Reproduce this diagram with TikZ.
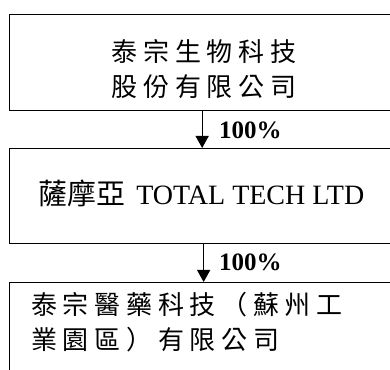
\documentclass[tikz,border=0pt]{standalone}
\usepackage{fontspec}
\setmainfont{Liberation Serif}
\newfontfamily\cjk{Noto Sans CJK TC}
\newfontfamily\cjksp[LetterSpace=22]{Noto Sans CJK TC}
\usetikzlibrary{arrows.meta}
\begin{document}
\begin{tikzpicture}[x=1pt,y=1pt,
  box/.style={draw,line width=1.3pt,minimum width=385pt,inner sep=0pt,anchor=north west},
  lbl/.style={inner sep=0pt},
  big/.style={font=\cjksp\fontsize{26}{26}\selectfont},
  conn/.style={line width=1.3pt,-{Triangle[width=13pt,length=12pt]}},
  pct/.style={inner sep=0pt,anchor=west,font=\fontsize{25}{25}\selectfont\bfseries}]
\useasboundingbox (0,0) rectangle (390,369);
\clip (0,0) rectangle (390,369);
\node[box,minimum height=96pt] (b1) at (9,355) {};
\node[box,minimum height=95pt] (b2) at (9,221) {};
\node[box,minimum height=100pt] (b3) at (9,87) {};
\node[lbl,big] (t1a) at (204,317) {泰宗生物科技};
\node[lbl,big] (t1b) at (204,282) {股份有限公司};
\node[lbl,anchor=base] (t2) at (201.5,164) {\cjk\fontsize{29}{29}\selectfont 薩摩亞\hspace{4pt} \fontspec{Liberation Serif}\fontsize{28}{28}\selectfont TOTAL TECH LTD};
\node[lbl,big,anchor=west] (t3a) at (31,64) {泰宗醫藥科技（蘇州工};
\node[lbl,big,anchor=west] (t3b) at (31,29) {業園區）有限公司};
\draw[conn] (b1.south) -- (b2.north);
\draw[conn] ([xshift=1.5pt]b2.south) -- ([xshift=1.5pt]b3.north);
\node[pct] (p1) at (219,239) {100\%};
\node[pct] (p2) at (219,107) {100\%};
\end{tikzpicture}
\end{document}
